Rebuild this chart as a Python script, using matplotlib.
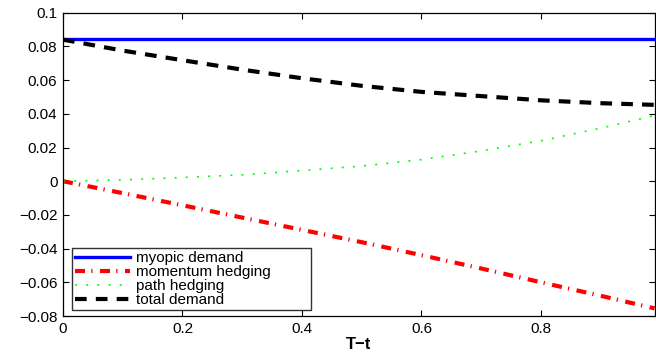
import matplotlib
matplotlib.use("Agg")
import matplotlib.pyplot as plt

plt.rcParams['font.family'] = ['Liberation Sans', 'DejaVu Sans']

t = [0.0, 0.1, 0.2, 0.3, 0.4, 0.5, 0.6, 0.7, 0.8, 0.9, 0.99]
myopic = [0.0842] * len(t)
momentum = [0.0, -0.0071, -0.0143, -0.0216, -0.0289, -0.0362, -0.0439, -0.0518, -0.0600, -0.0680, -0.0755]
path = [0.0, 0.0008, 0.0022, 0.0038, 0.0063, 0.0090, 0.0128, 0.0180, 0.0240, 0.0315, 0.0390]
total = [0.0840, 0.0775, 0.0718, 0.0662, 0.0611, 0.0566, 0.0530, 0.0505, 0.0480, 0.0463, 0.0453]

xticks = [0, 0.2, 0.4, 0.6, 0.8]
xlabels = ['0', '0.2', '0.4', '0.6', '0.8']
yticks = [-0.08, -0.06, -0.04, -0.02, 0, 0.02, 0.04, 0.06, 0.08, 0.1]
ylabels = ['\u22120.08', '\u22120.06', '\u22120.04', '\u22120.02', '0', '0.02', '0.04', '0.06', '0.08', '0.1']

W, H = 656, 352
L, R, T, B = 63, 655, 12.7, 316
fig = plt.figure(figsize=(W / 100, H / 100), dpi=100)
ax = fig.add_axes([L / W, 1 - B / H, (R - L) / W, (B - T) / H])

ax.plot(t, myopic, color='#0000ff', lw=2.4, label='myopic demand')
ax.plot(t, momentum, color='#ff0000', lw=3, linestyle=(0, (2.4, 1.5, 0.3, 1.8)), label='momentum hedging')
ax.plot(t, path, color='#00ff00', lw=1.2, linestyle=(0, (1.2, 5.5)), label='path hedging')
ax.plot(t, total, color='black', lw=3, linestyle=(0, (2.8, 2.2)), label='total demand')

ax.set_xlim(0, 0.9908)
ax.set_ylim(-0.08, 0.1)
ax.set_xticks(xticks)
ax.set_xticklabels(xlabels)
ax.set_yticks(yticks)
ax.set_yticklabels(ylabels)
ax.tick_params(direction='in', length=4, labelsize=11, top=True, right=True, width=0.8, pad=4)
for s in ax.spines.values():
    s.set_linewidth(0.9)
ax.set_xlabel('T\u2212t', fontsize=12, fontweight='bold', labelpad=1)

leg = ax.legend(loc='lower left', bbox_to_anchor=(0.0157, 0.0198, 0.403, 0.0),
                mode='expand', borderaxespad=0,
                fontsize=11, frameon=True, fancybox=False, edgecolor='black',
                borderpad=0.2, labelspacing=0.0, handlelength=3.6,
                handletextpad=0.4)
leg.get_frame().set_linewidth(1.0)

fig.savefig('out.png', dpi=100)
